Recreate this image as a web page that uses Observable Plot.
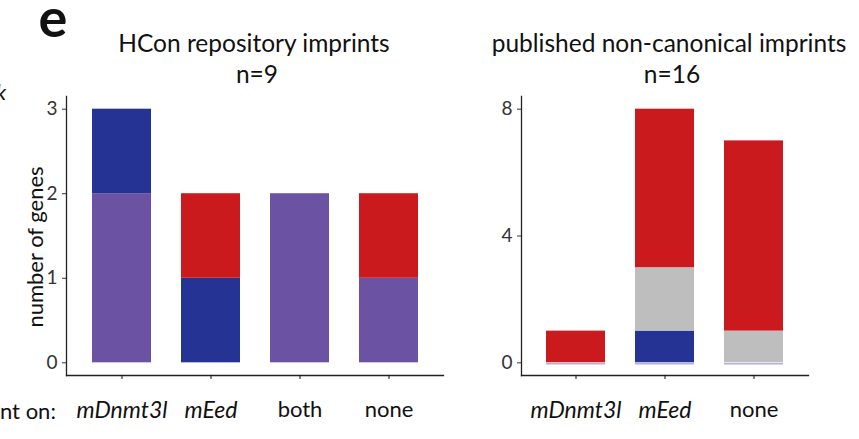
<!DOCTYPE html>
<html>
<head>
<meta charset="utf-8">
<script src="https://cdn.jsdelivr.net/npm/d3@7"></script>
<script src="https://cdn.jsdelivr.net/npm/@observablehq/plot@0.6"></script>
<style>
  html, body { margin: 0; padding: 0; background: #fff; }
  #wrap { position: relative; width: 859px; height: 439px; overflow: hidden; font-family: Lato, "Open Sans", sans-serif; color: #111; }
  #wrap svg { position: absolute; top: 0; }
  .lbl { position: absolute; white-space: nowrap; line-height: 1.2; }
</style>
</head>
<body>
<div id="wrap"></div>
<script>
// ---- data ----
const leftCats = ["mDnmt3l", "mEed", "both", "none"];
const leftBoth = [2, 0, 2, 1];
const leftEedDep = [1, 1, 0, 0];
const leftOther = [0, 1, 0, 1];
const leftTicks = [0, 1, 2, 3];

const rightCats = ["mDnmt3l", "mEed", "none"];
const rightBoth = [0, 0, 0];
const rightEedDep = [0, 1, 0];
const rightNA = [0, 2, 1];
const rightOther = [1, 5, 6];
const rightTicks = [0, 4, 8];

const groups = ["g_both", "g_eed", "g_na", "g_other"];
const colors = ["#6B52A3", "#253494", "#BEBEBE", "#CB1A1E"];
const italicCats = ["mDnmt3l", "mEed"];

function rows(cats, series) {
  const out = [];
  for (const [g, vals] of series) cats.forEach((c, i) => out.push({cat: c, group: g, n: vals[i]}));
  return out;
}
const leftData = rows(leftCats, [["g_both", leftBoth], ["g_eed", leftEedDep], ["g_other", leftOther]]);
const rightData = rows(rightCats, [["g_both", rightBoth], ["g_eed", rightEedDep], ["g_na", rightNA], ["g_other", rightOther]]);

function panel(data, cats, ticks, maxV, left, width, right, zeroLines) {
  const pad = maxV * 0.05;
  return Plot.plot({
    width: width,
    height: 439,
    marginLeft: left,
    marginRight: right,
    marginTop: 96,
    marginBottom: 64,
    style: {fontFamily: "Lato, 'Open Sans', sans-serif", background: "transparent", overflow: "visible"},
    x: {type: "band", domain: cats, paddingInner: 0.34, paddingOuter: 0.28, label: null},
    y: {domain: [-pad, maxV + pad], label: null},
    color: {type: "ordinal", domain: groups, range: colors},
    marks: [
      Plot.barY(data.filter(d => d.n > 0), {x: "cat", y: "n", fill: "group", order: groups}),
      zeroLines ? Plot.tickY(data.filter(d => d.group === "g_both" && d.n === 0), {x: "cat", y: "n", stroke: "#B4AEDD", strokeWidth: 1.5, dy: 1}) : null,
      Plot.frame({anchor: "left", stroke: "#222", strokeWidth: 1.3}),
      Plot.frame({anchor: "bottom", stroke: "#222", strokeWidth: 1.3}),
      Plot.axisY({ticks: ticks, tickSize: 4, tickPadding: 5, fontSize: 19, color: "#333", label: null, tickFormat: d => d}),
      Plot.axisX({ticks: cats.filter(c => italicCats.includes(c)), tickSize: 4, tickPadding: 22, fontSize: 23, fontStyle: "italic", color: "#111", label: null}),
      Plot.axisX({ticks: cats.filter(c => !italicCats.includes(c)), tickSize: 4, tickPadding: 22, fontSize: 22, color: "#111", label: null})
    ]
  });
}

const wrap = document.getElementById("wrap");
const p1 = panel(leftData, leftCats, leftTicks, 3, 66, 450, 7, false);
p1.style.left = "0px";
wrap.appendChild(p1);
const p2 = panel(rightData, rightCats, rightTicks, 8, 71, 409, 51, true);
p2.style.left = "450px";
wrap.appendChild(p2);

function label(text, x, y, opts = {}) {
  const d = document.createElement("div");
  d.className = "lbl";
  d.textContent = text;
  d.style.left = x + "px";
  d.style.top = y + "px";
  d.style.fontSize = (opts.size || 20) + "px";
  if (opts.weight) d.style.fontWeight = opts.weight;
  if (opts.italic) d.style.fontStyle = "italic";
  if (opts.lh) d.style.lineHeight = opts.lh;
  d.style.transform = opts.transform || "translate(-50%, -50%)";
  wrap.appendChild(d);
  return d;
}
label("e", 53, 0, {size: 54, weight: "bold", lh: 0.62, transform: "translate(-50%, 0)"});
label("k", 1, 92, {size: 22, italic: true});
label("nt on:", 0, 411, {size: 22, transform: "translate(0, -50%)"});
label("HCon repository imprints", 254, 43, {size: 24.5});
label("n=9", 257, 74, {size: 24.5});
label("published non-canonical imprints", 669, 43, {size: 24.5});
label("n=16", 672, 74, {size: 24.5});
label("number of genes", 35, 247, {size: 22, transform: "translate(-50%, -50%) rotate(-90deg)"});
</script>
</body>
</html>
